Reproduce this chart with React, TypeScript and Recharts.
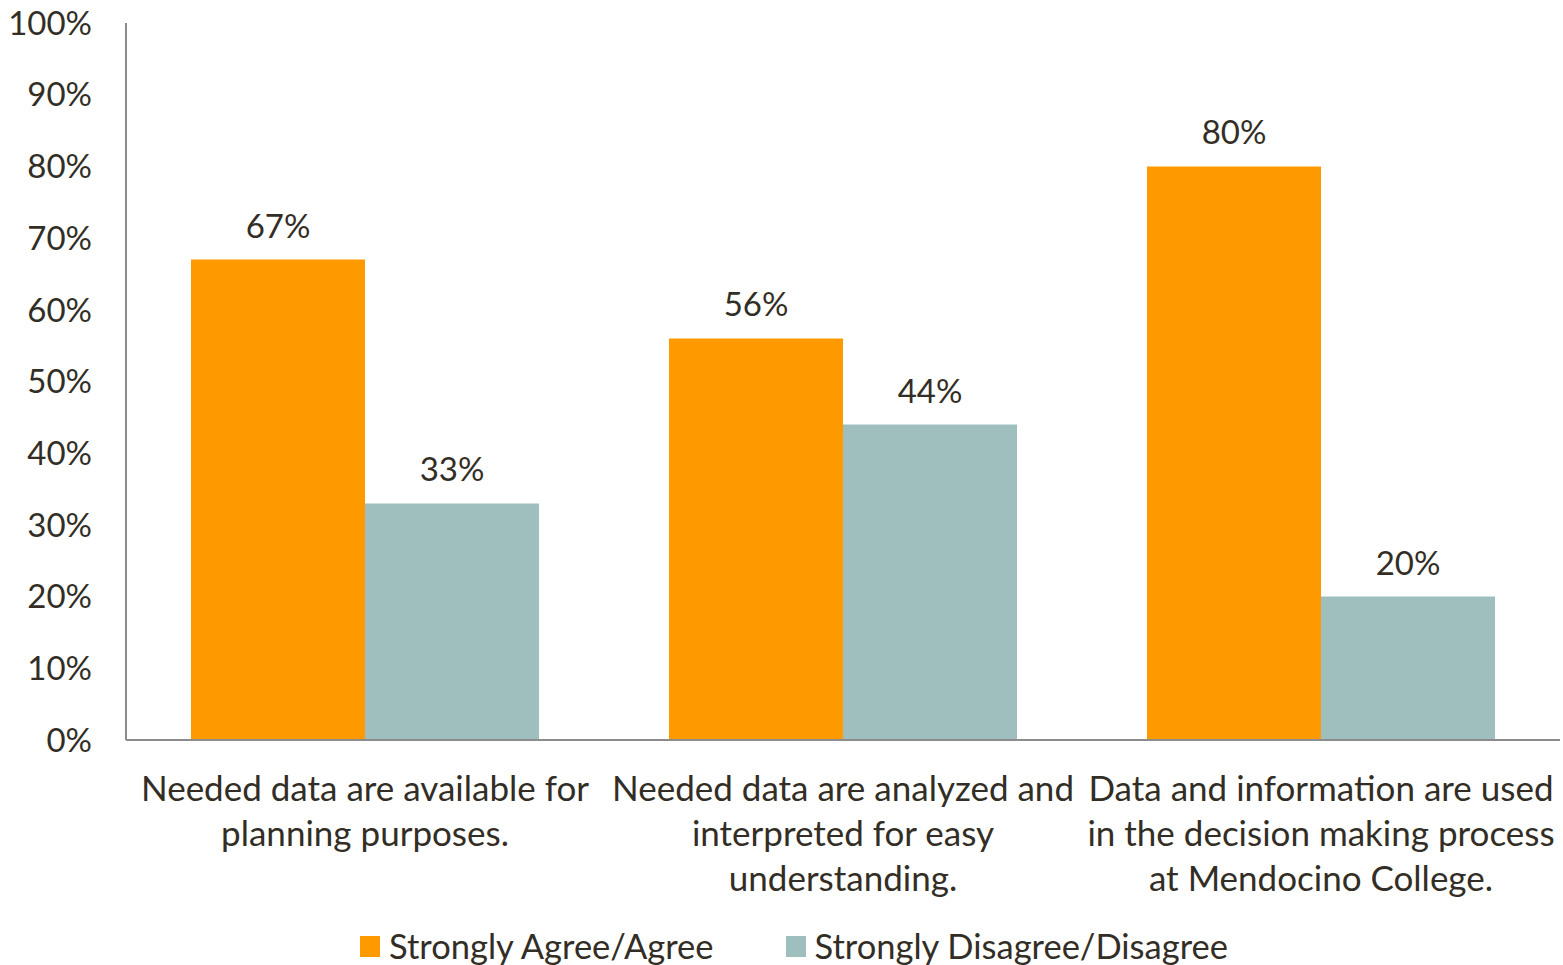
import { Bar, BarChart, LabelList, Legend, XAxis, YAxis } from 'recharts';

const categories = [
  'Needed data are available for planning purposes.',
  'Needed data are analyzed and interpreted for easy understanding.',
  'Data and information are used in the decision making process at Mendocino College.',
];
const categoryLines = [
  ['Needed data are available for', 'planning purposes.'],
  ['Needed data are analyzed and', 'interpreted for easy', 'understanding.'],
  ['Data and information are used', 'in the decision making process', 'at Mendocino College.'],
];
const agree = [67, 56, 80];
const disagree = [33, 44, 20];
const yTicks = [0, 10, 20, 30, 40, 50, 60, 70, 80, 90, 100];

const FONT = 'Lato, "Open Sans", sans-serif';
const TEXT = '#332e25';
const ORANGE = '#ff9900';
const TEAL = '#9ebfbe';

const data = categories.map((name, i) => ({ name, agree: agree[i], disagree: disagree[i] }));

function CategoryTick({ x, y, payload }: any) {
  const idx = categories.indexOf(payload.value);
  const lines = categoryLines[idx] ?? [payload.value];
  return (
    <text x={x} y={y} textAnchor="middle" fill={TEXT} fontFamily={FONT} fontSize={35}>
      {lines.map((l, i) => (
        <tspan key={i} x={x} dy={i === 0 ? 53 : 45}>
          {l}
        </tspan>
      ))}
    </text>
  );
}

function LegendBox() {
  const items = [
    { label: 'Strongly Agree/Agree', color: ORANGE },
    { label: 'Strongly Disagree/Disagree', color: TEAL },
  ];
  return (
    <div
      style={{
        display: 'flex',
        justifyContent: 'center',
        gap: 72,
        paddingLeft: 28,
        paddingTop: 6,
        fontFamily: FONT,
        fontSize: 34.5,
        color: TEXT,
        lineHeight: '40px',
      }}
    >
      {items.map((it) => (
        <div key={it.label} style={{ display: 'flex', alignItems: 'center' }}>
          <span style={{ width: 20, height: 21, background: it.color, marginRight: 9, display: 'inline-block' }} />
          {it.label}
        </div>
      ))}
    </div>
  );
}

export default function App() {
  return (
    <div style={{ position: 'absolute', left: 0, top: 0, background: '#fff' }}>
      <BarChart
        width={1563}
        height={965}
        data={data}
        margin={{ top: 23, right: 3, bottom: 0, left: 0 }}
        barCategoryGap={65}
        barGap={0}
      >
        <YAxis
          width={126}
          domain={[0, 100]}
          ticks={yTicks}
          tickFormatter={(v) => `${v}%`}
          tickLine={false}
          tickSize={0}
          tickMargin={34}
          axisLine={{ stroke: '#8c8c8c', strokeWidth: 2 }}
          tick={{ fill: TEXT, fontFamily: FONT, fontSize: 33 }}
        />
        <XAxis
          dataKey="name"
          height={180}
          tickLine={false}
          axisLine={{ stroke: '#8c8c8c', strokeWidth: 2 }}
          tick={<CategoryTick />}
          interval={0}
        />
        <Legend verticalAlign="bottom" height={45} content={<LegendBox />} />
        <Bar dataKey="agree" name="Strongly Agree/Agree" fill={ORANGE} isAnimationActive={false}>
          <LabelList
            dataKey="agree"
            position="top"
            offset={22}
            formatter={(v: any) => `${v}%`}
            style={{ fill: TEXT, fontFamily: FONT, fontSize: 33 }}
          />
        </Bar>
        <Bar dataKey="disagree" name="Strongly Disagree/Disagree" fill={TEAL} isAnimationActive={false}>
          <LabelList
            dataKey="disagree"
            position="top"
            offset={22}
            formatter={(v: any) => `${v}%`}
            style={{ fill: TEXT, fontFamily: FONT, fontSize: 33 }}
          />
        </Bar>
      </BarChart>
    </div>
  );
}
